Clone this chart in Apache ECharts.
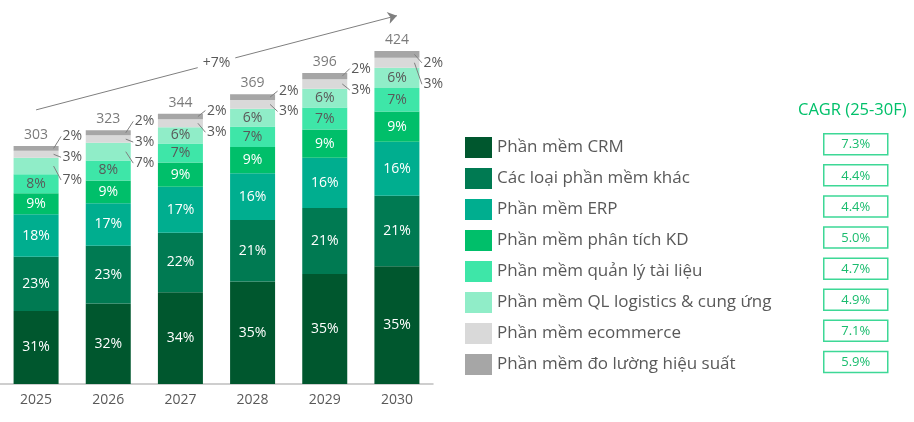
<!DOCTYPE html>
<html>
<head>
<meta charset="utf-8">
<script src="https://cdn.jsdelivr.net/npm/echarts@6/dist/echarts.min.js"></script>
<style>
    html, body { margin: 0; padding: 0; background: #fff; }
    #market_bar { width: 914px; height: 422px; }
</style>
</head>
<body>
<div id="market_bar"></div>
<script>
// Data
// ------------------------------

var years = ['2025', '2026', '2027', '2028', '2029', '2030'];
var totals = [303, 323, 344, 369, 396, 424];

var segments = [
    'Phần mềm CRM',
    'Các loại phần mềm khác',
    'Phần mềm ERP',
    'Phần mềm phân tích KD',
    'Phần mềm quản lý tài liệu',
    'Phần mềm QL logistics & cung ứng',
    'Phần mềm ecommerce',
    'Phần mềm đo lường hiệu suất'
];

// share of each year's total, in %
var shareCrm = [31, 32, 34, 35, 35, 35];
var shareOther = [23, 23, 22, 21, 21, 21];
var shareErp = [18, 17, 17, 16, 16, 16];
var shareBi = [9, 9, 9, 9, 9, 9];
var shareDocs = [8, 8, 7, 7, 7, 7];
var shareLogistics = [7, 7, 6, 6, 6, 6];
var shareEcommerce = [3, 3, 3, 3, 3, 3];
var shareMeasure = [2, 2, 2, 2, 2, 2];

var cagr = ['7.3%', '4.4%', '4.4%', '5.0%', '4.7%', '4.9%', '7.1%', '5.9%'];
var cagrTitle = 'CAGR (25-30F)';
var growthText = '+7%';


// Styles / layout
// ------------------------------

var FONT = '"Open Sans", "Noto Sans", sans-serif';
var BAR_W = 45;
var colors = ['#00572e', '#007a52', '#00ae8f', '#00bf6a', '#3ee6a8', '#90edc8', '#d9d9d9', '#a6a6a6'];
var labelColors = ['#fff', '#fff', '#fff', '#fff', '#595959', '#595959', '#595959', '#595959'];

// vertical shift (px) of labels drawn beside the bar, null = label stays inside
var calloutShift = [
    null, null, null, null, null,
    [14, 11.5, null, null, null, null],
    [3, 3, 9, 7, 6, 21.5],
    [-12, -11.5, -6, -6, -7.5, 8.5]
];


// Build series
// ------------------------------

var shares = [shareCrm, shareOther, shareErp, shareBi, shareDocs, shareLogistics, shareEcommerce, shareMeasure];
var shareSums = years.map(function (y, j) {
    return shares.reduce(function (s, a) { return s + a[j]; }, 0);
});

var cum = years.map(function () { return 0; });
var callouts = [];
var seriesList = [];

shares.forEach(function (arr, i) {
    var data = arr.map(function (p, j) {
        var v = totals[j] * p / shareSums[j];
        var shift = calloutShift[i] ? calloutShift[i][j] : null;
        if (shift != null) {
            callouts.push([j, cum[j], cum[j] + v, shift, p]);
        }
        cum[j] += v;
        return { value: v, pct: p, label: { show: shift == null } };
    });

    seriesList.push({
        name: segments[i],
        type: 'bar',
        stack: 'total',
        barWidth: BAR_W,
        itemStyle: { color: colors[i] },
        emphasis: { disabled: true },
        label: {
            show: true,
            position: 'inside',
            color: labelColors[i],
            fontSize: 14,
            fontFamily: FONT,
            formatter: function (params) { return params.data.pct + '%'; }
        },
        data: data
    });
});

// totals on top + growth arrow
seriesList.push({
    name: 'total',
    type: 'scatter',
    symbolSize: 0,
    silent: true,
    data: totals.map(function (t, j) { return [j, t]; }),
    label: {
        show: true,
        position: 'top',
        distance: 4,
        color: '#595959',
        fontSize: 14,
        fontFamily: FONT,
        formatter: function (params) { return params.value[1]; }
    },
    markLine: {
        silent: true,
        symbol: ['none', 'arrow'],
        symbolSize: 9,
        lineStyle: { color: '#7f7f7f', width: 1, type: 'solid' },
        label: { show: false },
        data: [[{ coord: [years[0], 349] }, { coord: [years[5], 469] }]]
    }
});

// small segments labelled beside the bar with a leader line
seriesList.push({
    name: 'callouts',
    type: 'custom',
    silent: true,
    z: 5,
    data: callouts,
    renderItem: function (params, api) {
        var x = api.value(0);
        var top = api.coord([x, api.value(2)]);
        var bottom = api.coord([x, api.value(1)]);
        var right = top[0] + BAR_W / 2;
        var cy = (top[1] + bottom[1]) / 2;
        var ly = cy + api.value(3);
        return {
            type: 'group',
            children: [{
                type: 'line',
                shape: { x1: right - 5, y1: cy, x2: right + 2.5, y2: ly },
                style: { stroke: '#7f7f7f', lineWidth: 1 }
            }, {
                type: 'text',
                style: {
                    x: right + 4,
                    y: ly,
                    text: api.value(4) + '%',
                    fill: '#595959',
                    fontSize: 14,
                    fontFamily: FONT,
                    align: 'left',
                    verticalAlign: 'middle'
                }
            }]
        };
    }
});


// CAGR column
// ------------------------------

var graphics = [{
    type: 'text',
    left: 798,
    top: 102,
    style: { text: cagrTitle, fill: '#00c06a', fontSize: 16.5, fontFamily: FONT }
}];

cagr.forEach(function (c, i) {
    graphics.push({
        type: 'group',
        left: 823,
        top: 133 + i * 31.1,
        children: [{
            type: 'rect',
            shape: { x: 0, y: 0, width: 64, height: 21 },
            style: { fill: '#fff', stroke: '#3dd896', lineWidth: 1.5 }
        }, {
            type: 'text',
            style: {
                x: 32, y: 11, text: c, fill: '#1abc6e', fontSize: 13, fontFamily: FONT,
                align: 'center', verticalAlign: 'middle'
            }
        }]
    });
});


// Chart
// ------------------------------

var market_bar = echarts.init(document.getElementById('market_bar'));

var market_bar_options = {
    animation: false,
    grid: { left: -4, right: 481, top: 7, bottom: 38 },
    xAxis: {
        type: 'category',
        data: years,
        axisTick: { show: false },
        axisLine: { lineStyle: { color: '#bfbfbf', width: 1.5 } },
        axisLabel: { color: '#595959', fontSize: 14, fontFamily: FONT, margin: 9 }
    },
    yAxis: {
        type: 'value',
        min: 0,
        max: 480,
        show: false,
        splitLine: { show: false }
    },
    legend: {
        data: segments,
        orient: 'vertical',
        left: 460,
        top: 132,
        itemWidth: 27,
        itemHeight: 21,
        itemGap: 10,
        icon: 'rect',
        selectedMode: false,
        textStyle: { color: '#595959', fontSize: 17, fontFamily: FONT, lineHeight: 21 }
    },
    graphic: graphics,
    series: seriesList
};

market_bar.setOption(market_bar_options);

// "+7%" sits on the middle of the growth arrow
var a = market_bar.convertToPixel({ gridIndex: 0 }, [years[0], 349]);
var b = market_bar.convertToPixel({ gridIndex: 0 }, [years[5], 469]);
graphics.push({
    type: 'text',
    z: 100,
    x: (a[0] + b[0]) / 2,
    y: (a[1] + b[1]) / 2,
    style: {
        text: growthText,
        fill: '#595959',
        fontSize: 14,
        fontFamily: FONT,
        align: 'center',
        verticalAlign: 'middle',
        backgroundColor: '#fff',
        padding: [2, 5]
    }
});
market_bar.setOption({ graphic: graphics });
</script>
</body>
</html>
